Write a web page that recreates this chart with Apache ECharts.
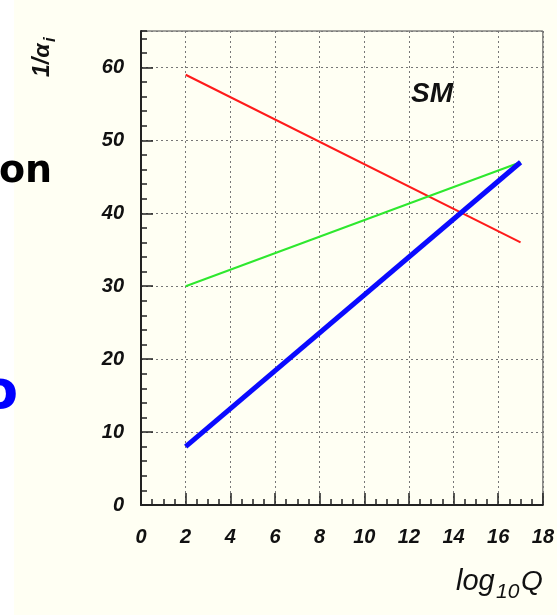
<!DOCTYPE html>
<html>
<head>
<meta charset="utf-8">
<script src="https://cdn.jsdelivr.net/npm/echarts@6/dist/echarts.min.js"></script>
<style>
  html, body { margin: 0; padding: 0; background: #fffff3; }
  #chart { width: 557px; height: 615px; }
</style>
</head>
<body>
<div id="chart"></div>
<script>
// Running of the inverse gauge couplings in the Standard Model
const logQ = [2, 17];
const invAlpha1 = [59, 36];   // U(1)
const invAlpha2 = [30, 47];   // SU(2)
const invAlpha3 = [8, 47];    // SU(3)

const xTicks = [0, 2, 4, 6, 8, 10, 12, 14, 16, 18];
const yTicks = [0, 10, 20, 30, 40, 50, 60];

const labelFont = {
  fontFamily: 'Liberation Sans',
  fontStyle: 'italic',
  fontWeight: 'bold',
  fontSize: 20,
  color: '#111'
};

const chart = echarts.init(document.getElementById('chart'), null, { renderer: 'canvas' });

const pairs = ys => logQ.map((x, i) => [x, ys[i]]);

chart.setOption({
  backgroundColor: '#fffff3',
  animation: false,
  grid: {
    left: 141, right: 14, top: 31, bottom: 110,
    show: true, borderColor: '#444', borderWidth: 1,
    backgroundColor: 'transparent'
  },
  xAxis: {
    type: 'value', min: xTicks[0], max: xTicks[xTicks.length - 1], interval: 2,
    axisLine: { lineStyle: { color: '#222', width: 2 } },
    axisTick: { inside: true, length: 12, lineStyle: { color: '#222', width: 1.5 } },
    minorTick: { show: true, splitNumber: 4, length: 6, lineStyle: { color: '#222', width: 1.5 } },
    splitLine: { show: true, lineStyle: { color: '#777', width: 1, type: [2, 3] } },
    axisLabel: Object.assign({ margin: 22 }, labelFont)
  },
  yAxis: [
    {
      type: 'value', min: 0, max: 65, interval: 10,
      axisLine: { lineStyle: { color: '#222', width: 2 } },
      axisTick: { inside: true, length: 12, lineStyle: { color: '#222', width: 1.5 } },
      splitLine: { show: true, lineStyle: { color: '#777', width: 1, type: [2, 3] } },
      axisLabel: Object.assign({ margin: 17, showMaxLabel: false,
        formatter: v => (yTicks.indexOf(v) >= 0 ? String(v) : '') }, labelFont)
    },
    {
      // fine ticks every 2 units along the left axis
      type: 'value', min: 0, max: 65, interval: 2, position: 'left',
      axisLine: { show: false },
      axisTick: { inside: true, length: 6, lineStyle: { color: '#222', width: 1.5 } },
      splitLine: { show: false },
      axisLabel: { show: false }
    }
  ],
  series: [
    { type: 'line', data: pairs(invAlpha1), symbol: 'none', yAxisIndex: 0,
      lineStyle: { color: '#ff1a1a', width: 2 } },
    { type: 'line', data: pairs(invAlpha2), symbol: 'none', yAxisIndex: 0,
      lineStyle: { color: '#2ee82e', width: 2 } },
    { type: 'line', data: pairs(invAlpha3), symbol: 'none', yAxisIndex: 0,
      lineStyle: { color: '#0a0aff', width: 5 } }
  ],
  graphic: [
    { type: 'rect', left: 0, top: 0, z: 0, shape: { width: 14, height: 615 },
      style: { fill: '#ffffff' } },
    { type: 'text', x: -1, y: 172, z: 10,
      style: { text: 'on', fontFamily: 'DejaVu Sans', fontWeight: 'bold', fontSize: 38,
               fill: '#000', align: 'left', verticalAlign: 'middle' } },
    { type: 'text', x: 18, y: 394, z: 10,
      style: { text: 'o', fontFamily: 'DejaVu Sans', fontWeight: 'bold', fontSize: 54,
               fill: '#0000ff', align: 'right', verticalAlign: 'middle' } },
    { type: 'text', x: 432, y: 94, z: 10,
      style: { text: 'SM', fontFamily: 'Liberation Sans', fontStyle: 'italic', fontWeight: 'bold',
               fontSize: 28, fill: '#111', align: 'center', verticalAlign: 'middle' } },
    // axis title: log10 Q
    { type: 'group', x: 456, y: 582, z: 10, children: [
      { type: 'text', x: 0, y: 0,
        style: { text: 'log', fontFamily: 'Liberation Sans', fontStyle: 'italic',
                 fontSize: 29, fill: '#111', align: 'left', verticalAlign: 'middle' } },
      { type: 'text', x: 40, y: 10,
        style: { text: '10', fontFamily: 'Liberation Sans', fontStyle: 'italic',
                 fontSize: 21, fill: '#111', align: 'left', verticalAlign: 'middle' } },
      { type: 'text', x: 65, y: 0,
        style: { text: 'Q', fontFamily: 'Liberation Sans', fontStyle: 'italic',
                 fontSize: 28, fill: '#111', align: 'left', verticalAlign: 'middle' } }
    ] },
    // axis title: 1/alpha_i, rotated
    { type: 'group', x: 43, y: 77, rotation: Math.PI / 2, z: 10, children: [
      { type: 'text', x: 0, y: 0,
        style: { text: '1/α', fontFamily: 'Liberation Sans', fontStyle: 'italic', fontWeight: 'bold',
                 fontSize: 23, fill: '#111', align: 'left', verticalAlign: 'middle' } },
      { type: 'text', x: 35, y: 7,
        style: { text: 'i', fontFamily: 'Liberation Sans', fontStyle: 'italic', fontWeight: 'bold',
                 fontSize: 17, fill: '#111', align: 'left', verticalAlign: 'middle' } }
    ] }
  ]
});
</script>
</body>
</html>
